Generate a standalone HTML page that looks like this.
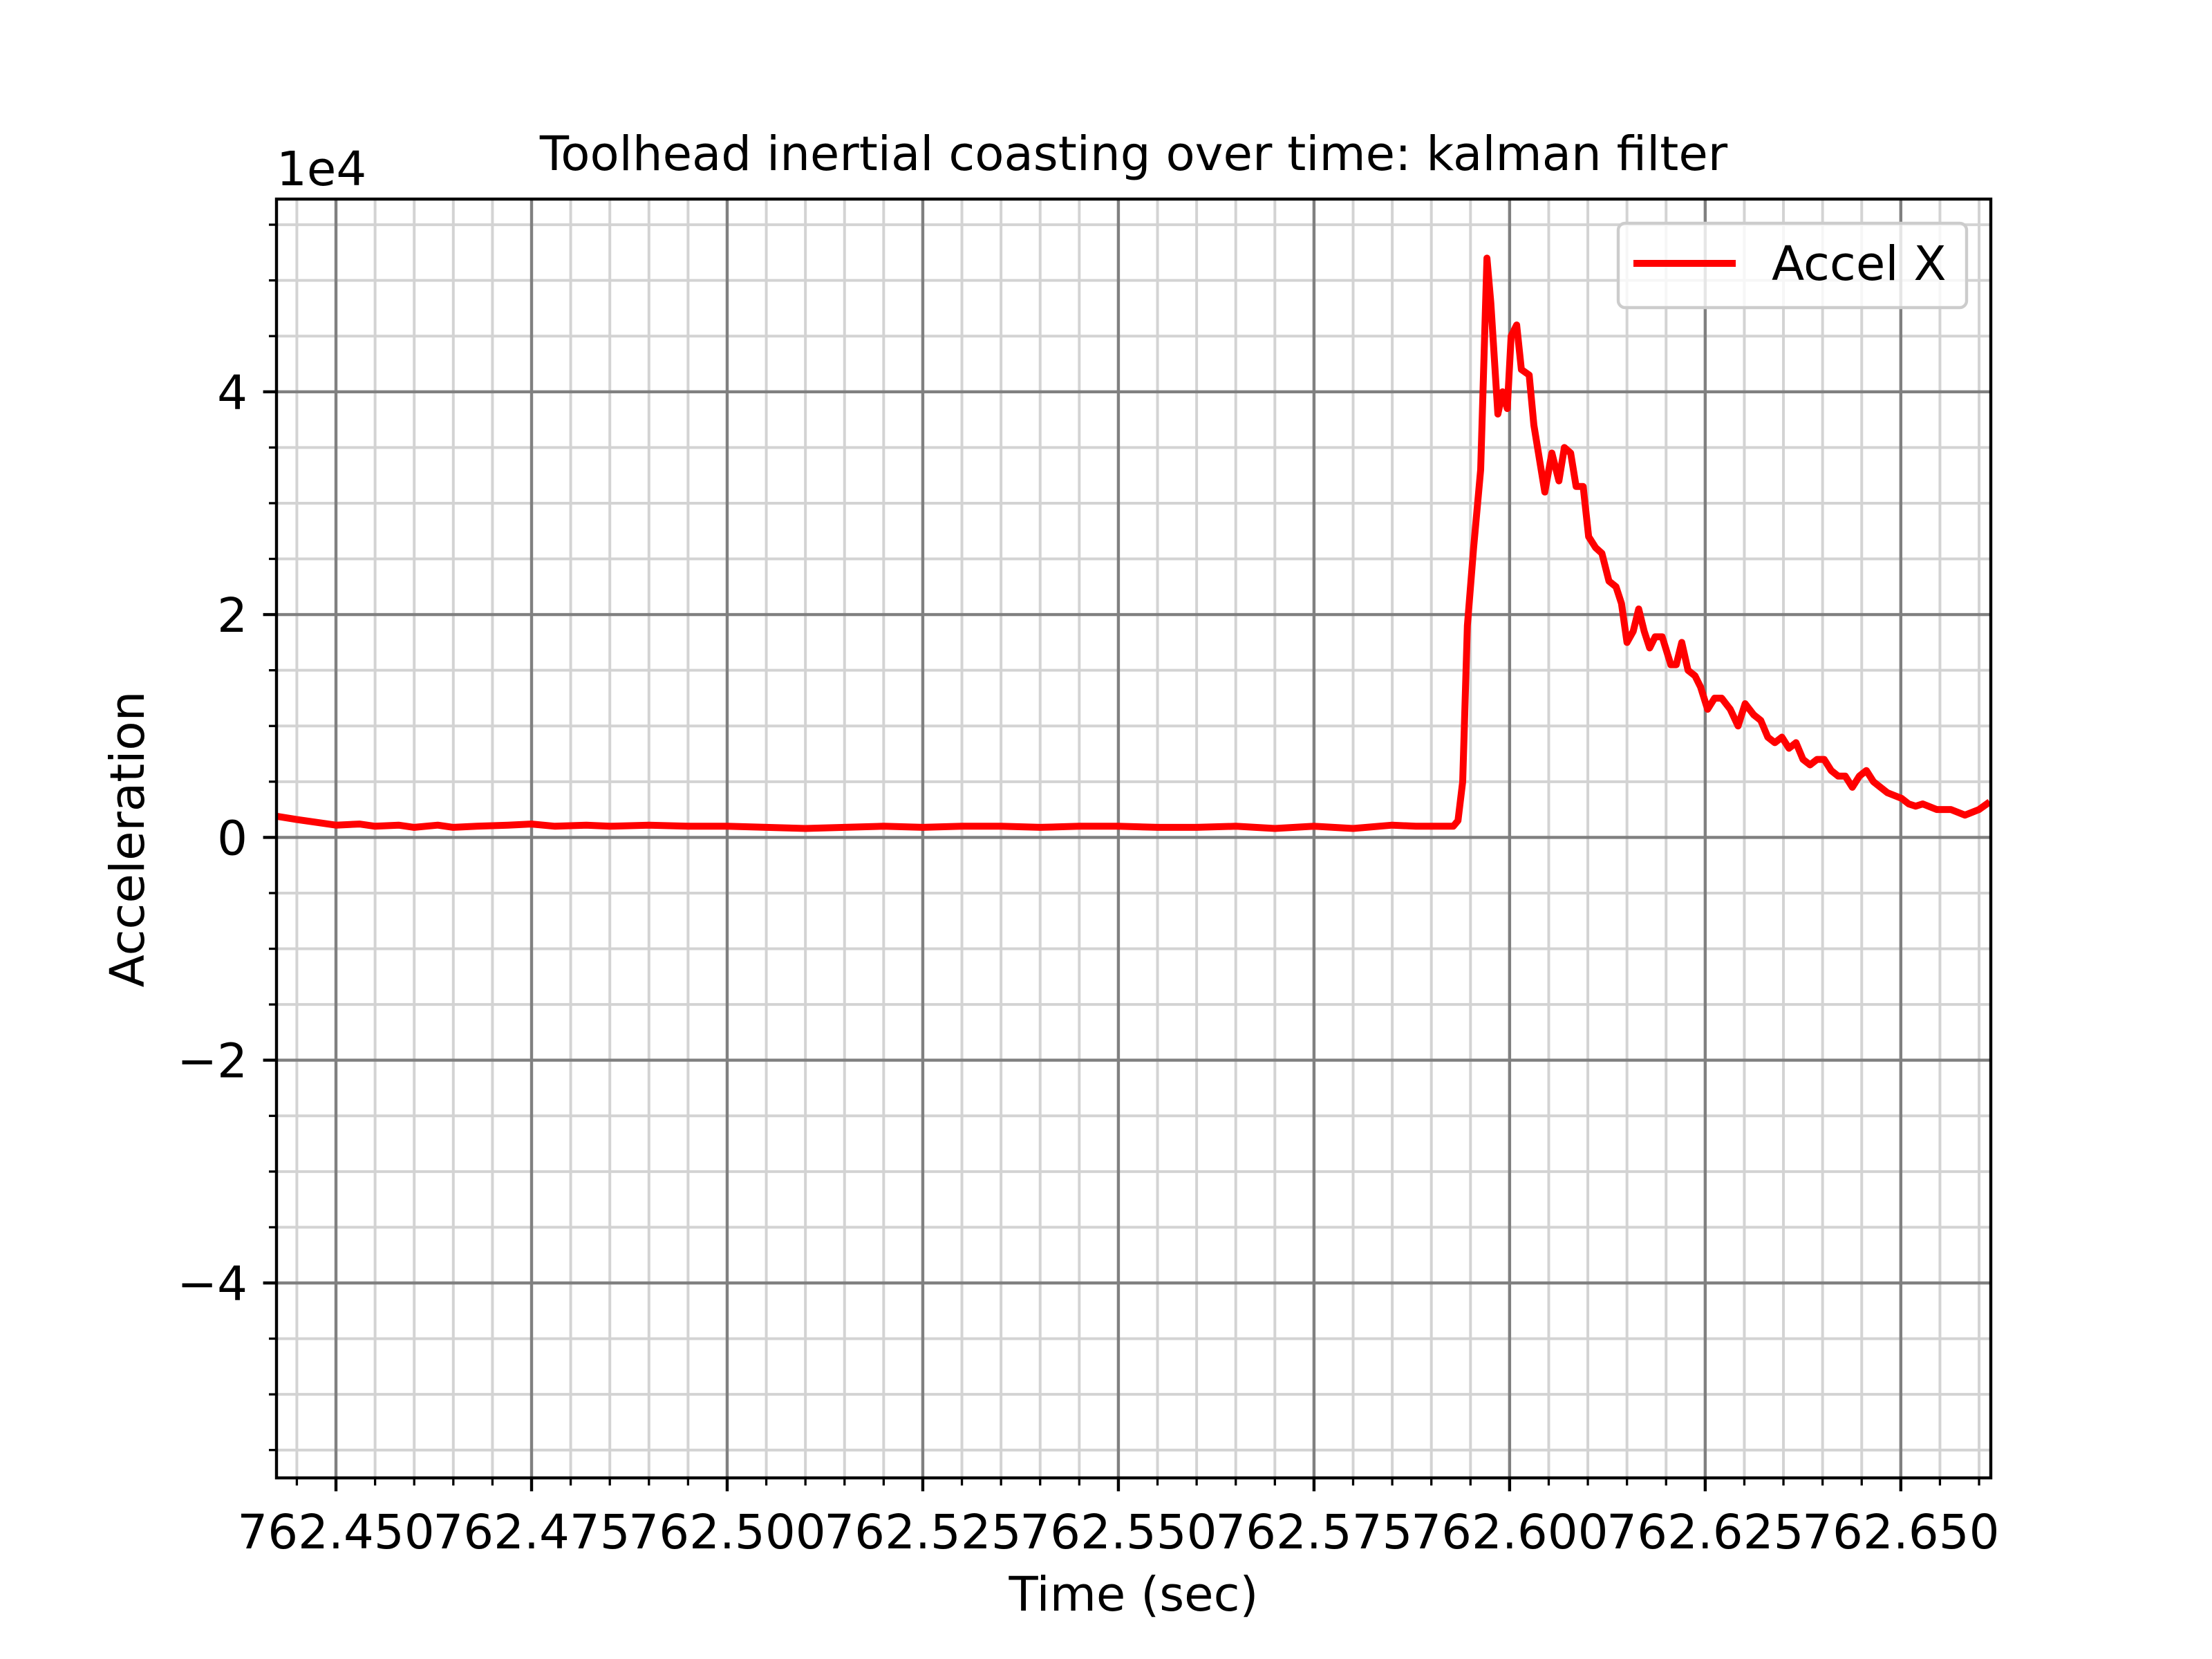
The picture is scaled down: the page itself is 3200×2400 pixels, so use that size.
<!DOCTYPE html>
<html><head><meta charset="utf-8"><style>
html,body{margin:0;padding:0;background:#fff}
svg{display:block;font-family:"DejaVu Sans","Liberation Sans",sans-serif}
</style></head><body>
<svg id="chart" width="3200" height="2400" viewBox="0 0 3200 2400" xmlns="http://www.w3.org/2000/svg">
<rect width="3200" height="2400" fill="#fff"/>
<g id="grid"></g>
<g id="series"></g>
<rect x="400" y="288" width="2480" height="1850" fill="none" stroke="#000" stroke-width="4.4"/>
<g id="ticks"></g>
<text x="1640" y="246" font-size="69" text-anchor="middle">Toolhead inertial coasting over time: kalman filter</text>
<text x="400" y="268" font-size="69">1e4</text>
<text x="1640" y="2330" font-size="69" text-anchor="middle">Time (sec)</text>
<text x="0" y="0" font-size="69" text-anchor="middle" transform="translate(208,1214) rotate(-90)">Acceleration</text>
<g>
<rect x="2341" y="323" width="504" height="122" rx="10" fill="#fff" fill-opacity="0.8" stroke="#ccc" stroke-width="4.4"/>
<line x1="2363" y1="381" x2="2511" y2="381" stroke="#f00" stroke-width="10"/>
<text x="2563" y="405" font-size="69">Accel X</text>
</g>
</svg>
<script>
// time offsets in ms relative to 762.450 s
const timeOffsetsMs = [-7.6,-5,-2,0,3,5,8,10,13,15,18,22,25,28,32,35,40,45,50,55,60,65,70,75,80,85,90,95,100,105,110,115,120,125,130,135,138,142.8,
143.4,144.0,144.6,145.4,146.3,147.1,147.6,148.5,149.1,149.7,150.2,150.9,151.5,152.5,153.1,154.5,155.4,156.3,157.0,157.8,158.5,159.4,160.1,161.0,161.8,162.7,163.6,164.3,165.0,165.8,166.5,167.2,167.9,168.6,169.5,170.6,171.3,172.0,172.8,173.7,174.4,175.3,176.2,177.1,178.2,179.2,180.1,181.2,182.1,183.0,183.9,184.8,185.7,186.6,187.5,188.4,189.3,190.2,191.1,192.0,192.9,193.8,194.7,195.6,196.5,197.4,198.3,200.1,201.0,201.9,202.8,204.6,206.4,208.2,210.0,211.0];
// acceleration in units of 1e4
const accelX = [0.19,0.16,0.13,0.11,0.12,0.10,0.11,0.09,0.11,0.09,0.10,0.11,0.12,0.10,0.11,0.10,0.11,0.10,0.10,0.09,0.08,0.09,0.10,0.09,0.10,0.10,0.09,0.10,0.10,0.09,0.09,0.10,0.08,0.10,0.08,0.11,0.10,0.10,
0.15,0.5,1.9,2.6,3.3,5.2,4.8,3.8,4.0,3.85,4.5,4.6,4.2,4.15,3.7,3.1,3.45,3.2,3.5,3.45,3.15,3.15,2.7,2.6,2.55,2.3,2.25,2.1,1.75,1.85,2.05,1.85,1.7,1.8,1.8,1.55,1.55,1.75,1.5,1.45,1.35,1.15,1.25,1.25,1.15,1.0,1.2,1.1,1.05,0.9,0.85,0.9,0.8,0.85,0.7,0.65,0.7,0.7,0.6,0.55,0.55,0.45,0.55,0.6,0.5,0.45,0.4,0.35,0.3,0.28,0.3,0.25,0.25,0.2,0.25,0.3];
const xTickLabels = ["762.450","762.475","762.500","762.525","762.550","762.575","762.600","762.625","762.650"];
const yTickValues = [-4,-2,0,2,4];

const NS="http://www.w3.org/2000/svg";
const L=400,R=2880,T=288,B=2138;
const xMin=762.4424,xMax=762.6615,yMin=-5.75,yMax=5.73;
const xs=t=>L+(t-xMin)/(xMax-xMin)*(R-L);
const ys=v=>B-(v-yMin)/(yMax-yMin)*(B-T);
function mk(tag,attrs,parent){const e=document.createElementNS(NS,tag);for(const k in attrs)e.setAttribute(k,attrs[k]);parent.appendChild(e);return e;}
const grid=document.getElementById('grid'),ticks=document.getElementById('ticks'),series=document.getElementById('series');
for(let t=762.445;t<=xMax;t+=0.005){const x=xs(t);if(x<L||x>R)continue;
 const g=mk('line',{x1:x,y1:T,x2:x,y2:B,stroke:'#d3d3d3','stroke-width':4},grid);
 
 
 const k=mk('line',{x1:x,y1:B,x2:x,y2:B+11,stroke:'#000','stroke-width':3.3},ticks);
 
 }
for(let v=-5.5;v<=yMax;v+=0.5){const y=ys(v);
 const g=mk('line',{x1:L,y1:y,x2:R,y2:y,stroke:'#d3d3d3','stroke-width':4},grid);
 
 
 const k=mk('line',{x1:L-11,y1:y,x2:L,y2:y,stroke:'#000','stroke-width':3.3},ticks);
 
 }
xTickLabels.forEach(lab=>{const x=xs(parseFloat(lab));
 const g=mk('line',{x1:x,y1:T,x2:x,y2:B,stroke:'#808080','stroke-width':4.4},grid);
 
 
 const k=mk('line',{x1:x,y1:B,x2:x,y2:B+19.4,stroke:'#000','stroke-width':4.4},ticks);
 
 
 const tx=mk('text',{x:x,y:2240,'font-size':69,'text-anchor':'middle'},ticks);tx.textContent=lab;
 
 });
yTickValues.forEach(v=>{const y=ys(v);
 const g=mk('line',{x1:L,y1:y,x2:R,y2:y,stroke:'#808080','stroke-width':4.4},grid);
 
 
 const k=mk('line',{x1:L-19.4,y1:y,x2:L,y2:y,stroke:'#000','stroke-width':4.4},ticks);
 
 
 const tx=mk('text',{x:358,y:y+25,'font-size':69,'text-anchor':'end'},ticks);tx.textContent=(v<0?'\u2212':'')+Math.abs(v);
 
 });
const cp=mk('clipPath',{id:'clip'},series);mk('rect',{x:L,y:T,width:R-L,height:B-T},cp);
const d=timeOffsetsMs.map((o,i)=>(i?'L':'M')+xs(762.45+o/1000).toFixed(1)+','+ys(accelX[i]).toFixed(1)).join('');
const line=mk('path',{d:d,fill:'none',stroke:'#f00','stroke-width':10,'stroke-linejoin':'round','stroke-linecap':'square','clip-path':'url(#clip)'},series);


</script>
</body></html>
